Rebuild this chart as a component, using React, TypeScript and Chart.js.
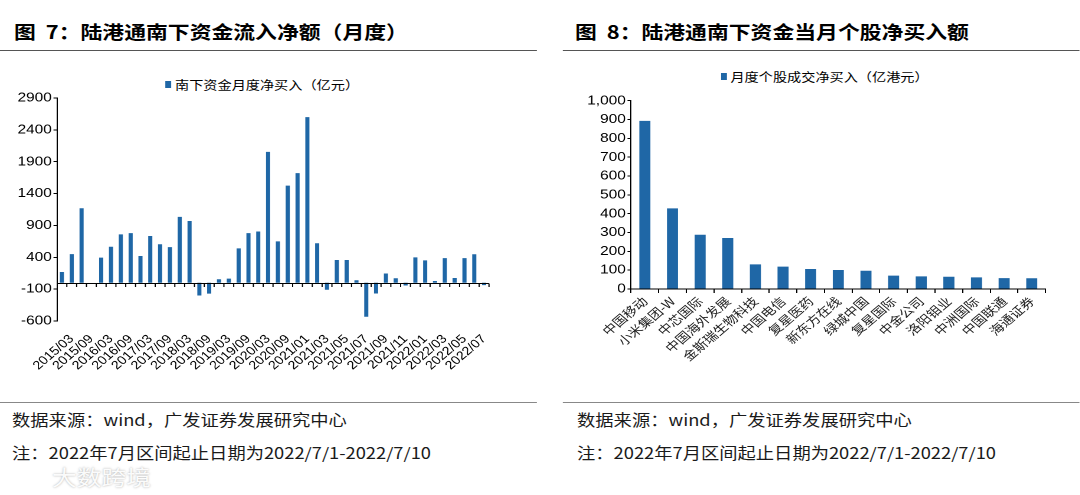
import React, { useEffect, useRef } from 'react';
import { Chart, registerables } from 'chart.js';

Chart.register(...registerables);

// ---------- data ----------
const flowCategories = [
  '2014/12', '2015/03', '2015/06', '2015/09', '2015/12', '2016/03', '2016/06', '2016/09', '2016/12',
  '2017/03', '2017/06', '2017/09', '2017/12', '2018/03', '2018/06', '2018/09', '2018/12',
  '2019/03', '2019/06', '2019/09', '2019/12', '2020/03', '2020/06', '2020/09', '2020/12',
  '2021/01', '2021/02', '2021/03', '2021/04', '2021/05', '2021/06', '2021/07', '2021/08',
  '2021/09', '2021/10', '2021/11', '2021/12', '2022/01', '2022/02', '2022/03', '2022/04',
  '2022/05', '2022/06', '2022/07',
];
const flowValues = [
  170, 450, 1170, 0, 395, 565, 760, 780, 420,
  735, 605, 560, 1035, 970, -200, -170, 55,
  65, 540, 780, 805, 2055, 650, 1525, 1720,
  2600, 620, -110, 358, 358, 40, -534, -168,
  145, 70, -42, 398, 351, 28, 387, 75,
  387, 447, -37,
];
const flowTickLabels = [
  '2015/03', '2015/09', '2016/03', '2016/09', '2017/03', '2017/09', '2018/03', '2018/09',
  '2019/03', '2019/09', '2020/03', '2020/09', '2021/01', '2021/03', '2021/05', '2021/07',
  '2021/09', '2021/11', '2022/01', '2022/03', '2022/05', '2022/07',
];
const flowAxis = { min: -600, max: 2900, step: 500 };

const stockNames = [
  '中国移动', '小米集团-W', '中芯国际', '中国海外发展', '金斯瑞生物科技', '中国电信', '复星医药',
  '新东方在线', '绿城中国', '复星国际', '中金公司', '洛阳钼业', '中洲国际', '中国联通', '海通证券',
];
const stockValues = [893, 428, 288, 271, 131, 119, 106, 101, 97, 71, 67, 65, 62, 58, 57];
const stockAxis = { min: 0, max: 1000, step: 100 };

// ---------- style ----------
const S = 1.18; // horizontal stretch of the whole figure
const BAR = '#1f67a6';
const CJK = '"Noto Sans CJK SC", sans-serif';
const LAT = '"Liberation Sans", Arial, sans-serif';

const zeroAxisPlugin = {
  id: 'zeroAxis',
  afterDatasetsDraw(chart: any) {
    const { ctx, chartArea, scales } = chart;
    const y0 = Math.round(scales.y.getPixelForValue(0)) + 0.5;
    const n = chart.data.labels.length;
    const w = (chartArea.right - chartArea.left) / n;
    ctx.save();
    ctx.strokeStyle = '#000';
    ctx.lineWidth = 1;
    ctx.beginPath();
    ctx.moveTo(chartArea.left, y0);
    ctx.lineTo(chartArea.right, y0);
    for (let i = 1; i <= n; i++) {
      const x = chartArea.left + i * w;
      ctx.moveTo(x, y0);
      ctx.lineTo(x, y0 + 3.5);
    }
    ctx.stroke();
    ctx.restore();
  },
};

function FlowChart() {
  const ref = useRef<HTMLCanvasElement>(null);
  useEffect(() => {
    const chart = new Chart(ref.current as HTMLCanvasElement, {
      type: 'bar',
      data: {
        labels: flowCategories,
        datasets: [{ label: '南下资金月度净买入（亿元）', data: flowValues, backgroundColor: BAR, barPercentage: 0.42, categoryPercentage: 1 }],
      },
      options: {
        animation: false,
        responsive: true,
        maintainAspectRatio: false,
        devicePixelRatio: 2,
        layout: { padding: { top: 10, right: 5.6, left: 0, bottom: 0 } },
        plugins: { legend: { display: false }, tooltip: { enabled: false } },
        scales: {
          x: {
            grid: { display: false },
            border: { display: false },
            ticks: {
              autoSkip: false,
              minRotation: 45,
              maxRotation: 45,
              padding: 3,
              color: '#000',
              font: { family: LAT, size: 12 },
              callback: (_v: any, i: number) => (flowTickLabels.includes(flowCategories[i]) ? flowCategories[i] : ''),
            },
            afterFit: (s: any) => { s.height = 50; s.paddingLeft = 0; s.paddingRight = 0; },
          },
          y: {
            min: flowAxis.min,
            max: flowAxis.max,
            ticks: {
              stepSize: flowAxis.step,
              color: '#000',
              padding: 1.5,
              font: { family: LAT, size: 13 },
              callback: (v: any) => String(v),
            },
            grid: { drawOnChartArea: false, drawTicks: true, tickLength: 3, color: '#000' },
            border: { display: true, color: '#000', width: 1 },
            afterFit: (s: any) => { s.width = 48.3; },
          },
        },
      },
      plugins: [zeroAxisPlugin],
    } as any);
    return () => chart.destroy();
  }, []);
  return <canvas ref={ref} />;
}

function StockChart() {
  const ref = useRef<HTMLCanvasElement>(null);
  useEffect(() => {
    const chart = new Chart(ref.current as HTMLCanvasElement, {
      type: 'bar',
      data: {
        labels: stockNames,
        datasets: [{ label: '月度个股成交净买入（亿港元）', data: stockValues, backgroundColor: BAR, barPercentage: 0.4, categoryPercentage: 1 }],
      },
      options: {
        animation: false,
        responsive: true,
        maintainAspectRatio: false,
        devicePixelRatio: 2,
        layout: { padding: { top: 20.7, right: 6, left: 0, bottom: 0 } },
        plugins: { legend: { display: false }, tooltip: { enabled: false } },
        scales: {
          x: {
            grid: { display: true, offset: true, drawOnChartArea: false, drawTicks: true, tickLength: 4, color: '#000' },
            border: { display: true, color: '#000', width: 1 },
            ticks: {
              autoSkip: false,
              minRotation: 45,
              maxRotation: 45,
              padding: 1,
              color: '#222',
              font: { family: CJK, size: 12 },
            },
            afterFit: (s: any) => { s.height = 85; s.paddingLeft = 0; s.paddingRight = 0; },
          },
          y: {
            min: stockAxis.min,
            max: stockAxis.max,
            ticks: {
              stepSize: stockAxis.step,
              color: '#000',
              padding: 1.5,
              font: { family: LAT, size: 13 },
              callback: (v: any) => Number(v).toLocaleString('en-US'),
            },
            grid: { drawOnChartArea: false, drawTicks: true, tickLength: 3, color: '#000' },
            border: { display: true, color: '#000', width: 1 },
            afterFit: (s: any) => { s.width = 54.7; },
          },
        },
      },
    } as any);
    return () => chart.destroy();
  }, []);
  return <canvas ref={ref} />;
}

const abs = (left: number, top: number, extra: React.CSSProperties = {}): React.CSSProperties => ({
  position: 'absolute', left, top, whiteSpace: 'nowrap', lineHeight: 1, ...extra,
});

function Legend({ left, top, text }: { left: number; top: number; text: string }) {
  return (
    <div style={abs(left, top, { fontFamily: CJK, fontSize: 12, color: '#000', display: 'flex', alignItems: 'center' })}>
      <span style={{ display: 'inline-block', width: 5.5, height: 7, background: BAR, marginRight: 3 }} />
      <span>{text}</span>
    </div>
  );
}

export default function App() {
  useEffect(() => {
    document.body.style.margin = '0';
    document.body.style.overflow = 'hidden';
  }, []);
  const W = 1080 / S;
  return (
    <div style={{ position: 'absolute', left: 0, top: 0, width: W, height: 495, transform: `scaleX(${S})`, transformOrigin: '0 0', background: '#fff', overflow: 'hidden' }}>
      {/* titles */}
      <div style={abs(11.9, 22, { fontFamily: CJK, fontWeight: 700, fontSize: 18.5, color: '#000' })}>图&nbsp;&nbsp;7：陆港通南下资金流入净额（月度）</div>
      <div style={abs(487.3, 22, { fontFamily: CJK, fontWeight: 700, fontSize: 18.5, color: '#000' })}>图&nbsp;&nbsp;8：陆港通南下资金当月个股净买入额</div>
      <div style={{ position: 'absolute', left: 0, top: 50, width: 455, height: 1, background: '#555' }} />
      <div style={{ position: 'absolute', left: 477, top: 50, width: W - 477, height: 1, background: '#555' }} />

      {/* legends */}
      <Legend left={139.8} top={78.5} text="南下资金月度净买入（亿元）" />
      <Legend left={610.5} top={70.5} text="月度个股成交净买入（亿港元）" />

      {/* charts */}
      <div style={{ position: 'absolute', left: 0, top: 88, width: 420, height: 283 }}>
        <FlowChart />
      </div>
      <div style={{ position: 'absolute', left: 480, top: 80, width: 411.6, height: 294 }}>
        <StockChart />
      </div>

      {/* footers */}
      <div style={{ position: 'absolute', left: 0, top: 402, width: 455, height: 1, background: '#888' }} />
      <div style={{ position: 'absolute', left: 477, top: 402, width: W - 477, height: 1, background: '#888' }} />
      <div style={abs(10.2, 412, { fontFamily: CJK, fontSize: 15.5, color: '#1a1a1a' })}>数据来源：wind，广发证券发展研究中心</div>
      <div style={abs(10.2, 445, { fontFamily: CJK, fontSize: 15.5, color: '#1a1a1a' })}>注：2022年7月区间起止日期为2022/7/1-2022/7/10</div>
      <div style={abs(489, 412, { fontFamily: CJK, fontSize: 15.5, color: '#1a1a1a' })}>数据来源：wind，广发证券发展研究中心</div>
      <div style={abs(489, 445, { fontFamily: CJK, fontSize: 15.5, color: '#1a1a1a' })}>注：2022年7月区间起止日期为2022/7/1-2022/7/10</div>
      <div style={abs(44, 466, { fontFamily: CJK, fontSize: 21, color: 'rgba(255,255,255,0.95)', textShadow: '0 0 2px rgba(0,0,0,0.35)' })}>大数跨境</div>
    </div>
  );
}
